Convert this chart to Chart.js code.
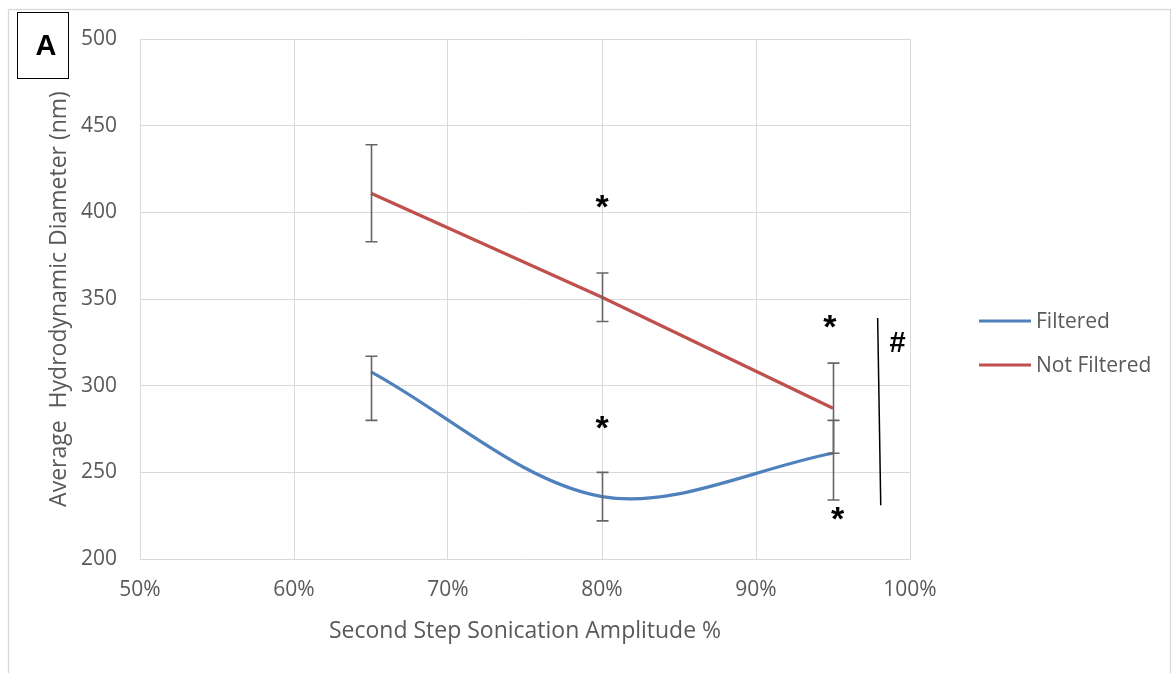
<!DOCTYPE html>
<html lang="en">
<head>
    <meta charset="UTF-8">
    <title>Hydrodynamic Diameter vs Sonication Amplitude</title>
    <script src="https://cdn.jsdelivr.net/npm/chart.js"></script>
    <style>
        html, body { margin: 0; padding: 0; background: #fff; }
        #wrap { width: 1172px; height: 673px; position: relative; }
    </style>
</head>
<body>
    <div id="wrap"><canvas id="sizeChart"></canvas></div>

    <script>
        // Data
        const amplitudes = [0.65, 0.80, 0.95];
        const filtered = [308, 236, 261];
        const filteredErrPlus = [9, 14, 19];
        const filteredErrMinus = [28, 14, 27];
        const notFiltered = [411, 351, 287];
        const notFilteredErr = [28, 14, 26];

        // significance marks (x = amplitude, y = nm)
        const markX = [0.80, 0.80, 0.948, 0.953, 0.992];
        const markY = [406, 279, 337, 226, 325];
        const markText = ['*', '*', '*', '*', '#'];
        const bracketX = [0.979, 0.981];
        const bracketY = [339, 231];

        const xTicks = [0.5, 0.6, 0.7, 0.8, 0.9, 1.0];

        const tickColor = '#595959';
        const gridColor = '#d9d9d9';
        const baseFont = { family: 'Open Sans', size: 21 };
        const titleFont = { family: 'Open Sans', size: 23 };

        function toPoints(xs, ys) {
            return xs.map((x, i) => ({ x: x, y: ys[i] }));
        }

        // error bars, marks, legend and frame
        const extras = {
            id: 'extras',
            beforeDraw(chart) {
                const ctx = chart.ctx;
                ctx.save();
                ctx.strokeStyle = gridColor;
                ctx.lineWidth = 1.3;
                ctx.strokeRect(8.5, 9.5, 1162, 700);
                ctx.restore();
            },
            afterDatasetsDraw(chart) {
                const ctx = chart.ctx;
                const xs = chart.scales.x, ys = chart.scales.y;
                ctx.save();
                ctx.strokeStyle = '#666666';
                ctx.lineWidth = 1.6;
                chart.data.datasets.forEach(ds => {
                    ds.data.forEach((p, i) => {
                        const px = Math.round(xs.getPixelForValue(p.x)) + 0.5;
                        const top = ys.getPixelForValue(p.y + ds.errPlus[i]);
                        const bot = ys.getPixelForValue(p.y - ds.errMinus[i]);
                        ctx.beginPath();
                        ctx.moveTo(px, top); ctx.lineTo(px, bot);
                        ctx.moveTo(px - 6, top); ctx.lineTo(px + 6, top);
                        ctx.moveTo(px - 6, bot); ctx.lineTo(px + 6, bot);
                        ctx.stroke();
                    });
                });

                // bracket
                ctx.strokeStyle = '#000';
                ctx.lineWidth = 1.5;
                ctx.beginPath();
                ctx.moveTo(xs.getPixelForValue(bracketX[0]), ys.getPixelForValue(bracketY[0]));
                ctx.lineTo(xs.getPixelForValue(bracketX[1]), ys.getPixelForValue(bracketY[1]));
                ctx.stroke();

                // marks
                ctx.fillStyle = '#000';
                ctx.textAlign = 'center';
                ctx.textBaseline = 'alphabetic';
                markText.forEach((t, i) => {
                    ctx.font = t === '*' ? 'bold 34px "Liberation Sans"' : 'bold 29px "Liberation Sans"';
                    const m = ctx.measureText(t);
                    const cx = xs.getPixelForValue(markX[i]);
                    const cy = ys.getPixelForValue(markY[i]);
                    ctx.fillText(t, cx, cy + (m.actualBoundingBoxAscent - m.actualBoundingBoxDescent) / 2);
                });
                ctx.restore();
            },
            afterDraw(chart) {
                const ctx = chart.ctx;
                ctx.save();
                // legend
                const rows = [321, 365];
                ctx.font = '21px "Open Sans"';
                ctx.textBaseline = 'middle';
                ctx.textAlign = 'left';
                chart.data.datasets.forEach((ds, i) => {
                    ctx.strokeStyle = ds.borderColor;
                    ctx.lineWidth = 3;
                    ctx.beginPath();
                    ctx.moveTo(979, rows[i]);
                    ctx.lineTo(1031, rows[i]);
                    ctx.stroke();
                    ctx.fillStyle = tickColor;
                    ctx.fillText(ds.label, 1036, rows[i] + 1);
                });

                // panel letter
                ctx.strokeStyle = '#000';
                ctx.lineWidth = 1;
                ctx.fillStyle = '#fff';
                ctx.fillRect(17.5, 12.5, 51, 66);
                ctx.strokeRect(17.5, 12.5, 51, 66);
                ctx.fillStyle = '#000';
                ctx.font = 'bold 29px "Liberation Sans"';
                ctx.textAlign = 'center';
                ctx.textBaseline = 'alphabetic';
                ctx.fillText('A', 46, 55);
                ctx.restore();
            }
        };

        window.onload = function() {
            new Chart(document.getElementById('sizeChart'), {
                type: 'line',
                data: {
                    datasets: [{
                        label: 'Filtered',
                        data: toPoints(amplitudes, filtered),
                        errPlus: filteredErrPlus,
                        errMinus: filteredErrMinus,
                        borderColor: '#4F81BD',
                        borderWidth: 3.2,
                        pointRadius: 0,
                        tension: 0.33,
                        fill: false
                    }, {
                        label: 'Not Filtered',
                        data: toPoints(amplitudes, notFiltered),
                        errPlus: notFilteredErr,
                        errMinus: notFilteredErr,
                        borderColor: '#C0504D',
                        borderWidth: 3.2,
                        pointRadius: 0,
                        tension: 0,
                        fill: false
                    }]
                },
                options: {
                    responsive: true,
                    maintainAspectRatio: false,
                    animation: false,
                    layout: { padding: { left: 0, top: 39, right: 262, bottom: 0 } },
                    plugins: {
                        legend: { display: false },
                        tooltip: { enabled: false }
                    },
                    scales: {
                        x: {
                            type: 'linear',
                            min: 0.5,
                            max: 1.0,
                            afterFit: s => { s.height = 114; },
                            afterBuildTicks: s => { s.ticks = xTicks.map(v => ({ value: v })); },
                            grid: { color: gridColor, drawTicks: false },
                            border: { color: gridColor },
                            ticks: {
                                color: tickColor,
                                font: baseFont,
                                padding: 18,
                                callback: v => Math.round(v * 100) + '%'
                            },
                            title: {
                                display: true,
                                text: 'Second Step Sonication Amplitude %',
                                color: tickColor,
                                font: titleFont,
                                padding: { top: 0, bottom: 28 }
                            }
                        },
                        y: {
                            min: 200,
                            max: 500,
                            afterFit: s => { s.width = 140; },
                            grid: { color: gridColor, drawTicks: false },
                            border: { color: gridColor },
                            ticks: {
                                color: tickColor,
                                font: baseFont,
                                padding: 23,
                                stepSize: 50
                            },
                            title: {
                                display: true,
                                text: 'Average  Hydrodynamic Diameter (nm)',
                                color: tickColor,
                                font: titleFont,
                                padding: { top: 46, bottom: 0 }
                            }
                        }
                    }
                },
                plugins: [extras]
            });
        };
    </script>
</body>
</html>
